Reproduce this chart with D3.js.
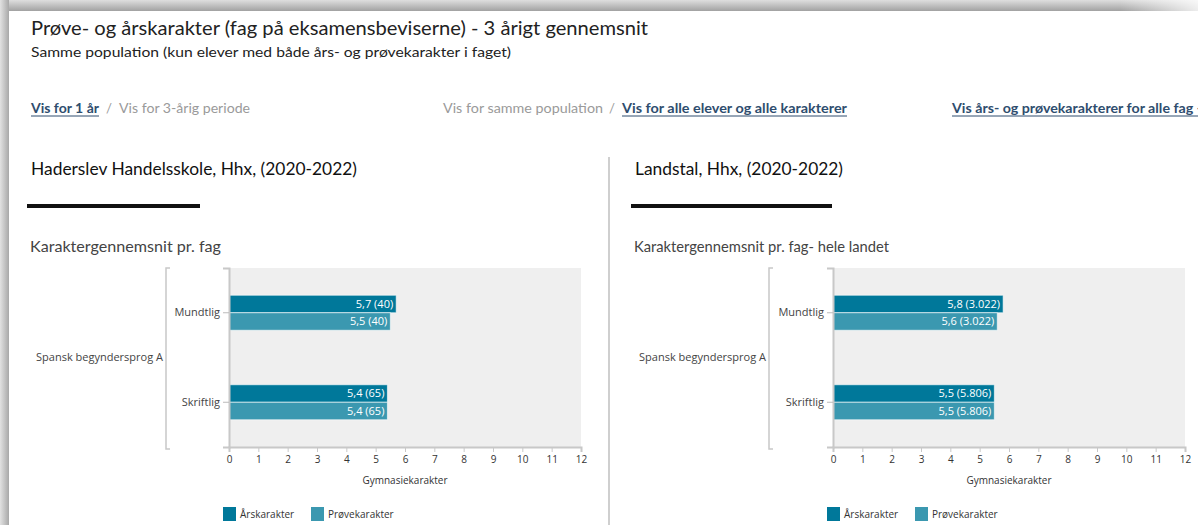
<!DOCTYPE html>
<html>
<head>
<meta charset="utf-8">
<script src="https://cdn.jsdelivr.net/npm/d3@7"></script>
<style>
  body { margin: 0; background: #fff; }
  svg text { font-family: 'Open Sans', 'Noto Sans', sans-serif; }
  .hdr { font-family: Lato, 'Open Sans', sans-serif !important; }
</style>
</head>
<body>
<div id="chartContainer"></div>
<script>
// Data
const categories = ['Mundtlig', 'Skriftlig'];
const groupLabel = 'Spansk begyndersprog A';
const seriesNames = ['Årskarakter', 'Prøvekarakter'];
const seriesColors = ['#00789a', '#3b98b0'];
const xTicks = [0, 1, 2, 3, 4, 5, 6, 7, 8, 9, 10, 11, 12];

const schoolAars = [5.7, 5.4];
const schoolProeve = [5.5, 5.4];
const schoolCount = [40, 65];

const landAars = [5.8, 5.5];
const landProeve = [5.6, 5.5];
const landCount = [3022, 5806];

const width = 1198;
const height = 525;

const locale = d3.formatLocale({ decimal: ',', thousands: '.', grouping: [3], currency: ['', ''] });
const fVal = locale.format('.1f');
const fCount = locale.format(',d');

const svg = d3
  .select('#chartContainer')
  .append('svg')
  .attr('width', width)
  .attr('height', height);

// window shadow around the screenshot
const defs = svg.append('defs');
const gTop = defs.append('linearGradient').attr('id', 'shTop')
  .attr('x1', '0%').attr('y1', '0%').attr('x2', '0%').attr('y2', '100%');
gTop.append('stop').attr('offset', '0%').attr('stop-color', '#dedede');
gTop.append('stop').attr('offset', '100%').attr('stop-color', '#a2a2a2');
const gLeft = defs.append('linearGradient').attr('id', 'shLeft')
  .attr('x1', '0%').attr('y1', '0%').attr('x2', '100%').attr('y2', '0%');
gLeft.append('stop').attr('offset', '0%').attr('stop-color', '#e2e2e2');
gLeft.append('stop').attr('offset', '100%').attr('stop-color', '#a8a8a8');
const gFade = defs.append('linearGradient').attr('id', 'shFade')
  .attr('x1', '0%').attr('y1', '0%').attr('x2', '100%').attr('y2', '0%');
gFade.append('stop').attr('offset', '0%').attr('stop-color', '#fff').attr('stop-opacity', 0);
gFade.append('stop').attr('offset', '100%').attr('stop-color', '#fff').attr('stop-opacity', 0.8);

svg.append('rect').attr('x', 0).attr('y', 0).attr('width', width).attr('height', 11).attr('fill', 'url(#shTop)');
svg.append('rect').attr('x', 1120).attr('y', 0).attr('width', 78).attr('height', 11).attr('fill', 'url(#shFade)');
svg.append('rect').attr('x', 0).attr('y', 0).attr('width', 9).attr('height', height).attr('fill', 'url(#shLeft)');

// Titles
svg.append('text').attr('class', 'hdr')
  .attr('x', 31).attr('y', 35)
  .attr('font-size', 19).attr('fill', '#222')
  .attr('textLength', 617).attr('lengthAdjust', 'spacingAndGlyphs')
  .text('Prøve- og årskarakter (fag på eksamensbeviserne) - 3 årigt gennemsnit');
svg.append('text').attr('class', 'hdr')
  .attr('x', 31).attr('y', 57)
  .attr('font-size', 14).attr('fill', '#222')
  .attr('textLength', 480).attr('lengthAdjust', 'spacingAndGlyphs')
  .text('Samme population (kun elever med både års- og prøvekarakter i faget)');

// Link row
const links = [
  { x: 31, w: 68, t: 'Vis for 1 år', active: true },
  { x: 106, w: 6, t: '/', active: false },
  { x: 119, w: 131, t: 'Vis for 3-årig periode', active: false },
  { x: 443, w: 160, t: 'Vis for samme population', active: false },
  { x: 609, w: 6, t: '/', active: false },
  { x: 622, w: 225, t: 'Vis for alle elever og alle karakterer', active: true },
  { x: 952, w: 250, t: 'Vis års- og prøvekarakterer for alle fag -', active: true }
];
links.forEach(l => {
  svg.append('text').attr('class', 'hdr')
    .attr('x', l.x).attr('y', 113)
    .attr('font-size', 13)
    .attr('font-weight', l.active ? 'bold' : 'normal')
    .attr('fill', l.active ? '#2e4d6e' : '#9a9a9a')
    .attr('textLength', l.w).attr('lengthAdjust', 'spacingAndGlyphs')
    .text(l.t);
  if (l.active) {
    svg.append('line')
      .attr('x1', l.x).attr('x2', l.x + l.w)
      .attr('y1', 116).attr('y2', 116)
      .attr('stroke', '#2e4d6e').attr('stroke-width', 1);
  }
});

// divider between the two panels
svg.append('line')
  .attr('x1', 609).attr('x2', 609).attr('y1', 157).attr('y2', height)
  .attr('stroke', '#cfcfcf').attr('stroke-width', 2);

function drawPanel(opts) {
  const g = svg.append('g');
  const ox = opts.left;

  g.append('text').attr('class', 'hdr')
    .attr('x', ox + 4).attr('y', 175)
    .attr('font-size', 17).attr('fill', '#111')
    .attr('textLength', opts.titleW).attr('lengthAdjust', 'spacingAndGlyphs')
    .text(opts.title);
  g.append('rect')
    .attr('x', ox).attr('y', 204).attr('width', opts.barW).attr('height', 4)
    .attr('fill', '#111');
  g.append('text').attr('class', 'hdr')
    .attr('x', ox + 3).attr('y', 252)
    .attr('font-size', 15).attr('fill', '#444')
    .attr('textLength', opts.subW).attr('lengthAdjust', 'spacingAndGlyphs')
    .text(opts.sub);

  const plotTop = 268;
  const plotBottom = 447;

  const x = d3.scaleLinear().domain([0, 12]).range([opts.x0, opts.x0 + 352]);
  const y = d3.scaleBand().domain(categories).range([plotTop, plotBottom]);
  const bw = y.bandwidth();
  const yInner = d3.scaleBand().domain(seriesNames).range([bw / 2 - 17.5, bw / 2 + 17.5]);

  // plot background
  g.append('rect')
    .attr('x', x(0)).attr('y', plotTop)
    .attr('width', x(12) - x(0)).attr('height', plotBottom - plotTop)
    .attr('fill', '#efefef');

  const rows = [];
  categories.forEach((c, i) => {
    rows.push({ cat: c, s: seriesNames[0], v: opts.aars[i], n: opts.count[i], col: seriesColors[0] });
    rows.push({ cat: c, s: seriesNames[1], v: opts.proeve[i], n: opts.count[i], col: seriesColors[1] });
  });

  g.selectAll('.bar')
    .data(rows)
    .enter()
    .append('rect')
    .attr('class', 'bar')
    .attr('x', x(0))
    .attr('y', d => y(d.cat) + yInner(d.s))
    .attr('width', d => x(d.v) - x(0))
    .attr('height', yInner.bandwidth())
    .attr('fill', d => d.col)
    .attr('stroke', '#fff')
    .attr('stroke-opacity', 0.6)
    .attr('stroke-width', 1);

  g.selectAll('.barlabel')
    .data(rows)
    .enter()
    .append('text')
    .attr('class', 'barlabel')
    .attr('x', d => x(d.v) - 3)
    .attr('y', d => y(d.cat) + yInner(d.s) + yInner.bandwidth() / 2)
    .attr('dy', '0.35em')
    .attr('text-anchor', 'end')
    .attr('font-size', 11)
    .attr('fill', '#fff')
    .text(d => `${fVal(d.v)} (${fCount(d.n)})`);

  // x axis
  const xAxis = d3.axisBottom(x).tickValues(xTicks).tickSize(5).tickPadding(4);
  const gx = g.append('g')
    .attr('transform', `translate(0,${plotBottom})`)
    .call(xAxis);
  gx.select('.domain').attr('stroke', '#c8c8c8').attr('stroke-width', 2);
  gx.selectAll('.tick line').attr('stroke', '#c8c8c8');
  gx.selectAll('.tick text').attr('fill', '#333').attr('font-size', 10)
    .style('font-family', "'Open Sans', sans-serif");
  g.append('text')
    .attr('x', (x(0) + x(12)) / 2).attr('y', 484)
    .attr('text-anchor', 'middle')
    .attr('font-size', 10).attr('fill', '#333')
    .text('Gymnasiekarakter');

  // y axis
  const yAxis = d3.axisLeft(y).tickSize(6).tickPadding(3);
  const gy = g.append('g')
    .attr('transform', `translate(${x(0)},0)`)
    .call(yAxis);
  gy.select('.domain').attr('stroke', '#c8c8c8').attr('stroke-width', 2);
  gy.selectAll('.tick line').attr('stroke', '#bbb');
  gy.selectAll('.tick text').attr('fill', '#444').attr('font-size', 11)
    .style('font-family', "'Open Sans', sans-serif");

  // outer group bracket
  const bx = opts.bracketX;
  g.append('path')
    .attr('d', `M${bx + 4},${plotTop}H${bx}V${plotBottom + 2}H${bx + 4}`)
    .attr('fill', 'none').attr('stroke', '#c8c8c8').attr('stroke-width', 1.5);
  g.append('text')
    .attr('x', bx - 3).attr('y', (plotTop + plotBottom) / 2)
    .attr('dy', '0.35em')
    .attr('text-anchor', 'end')
    .attr('font-size', 11).attr('fill', '#444')
    .text(groupLabel);

  // legend
  const lg = g.append('g').attr('transform', `translate(${opts.legendX},507)`);
  const items = lg.selectAll('.leg')
    .data(seriesNames)
    .enter()
    .append('g')
    .attr('transform', (d, i) => `translate(${i * 88},0)`);
  items.append('rect')
    .attr('width', 13).attr('height', 14)
    .attr('fill', (d, i) => seriesColors[i]);
  items.append('text')
    .attr('x', 17).attr('y', 11)
    .attr('font-size', 10).attr('fill', '#333')
    .text(d => d);
}

drawPanel({
  left: 27, barW: 173, x0: 229, bracketX: 166, legendX: 223,
  title: 'Haderslev Handelsskole, Hhx, (2020-2022)', titleW: 326,
  sub: 'Karaktergennemsnit pr. fag', subW: 191,
  aars: schoolAars, proeve: schoolProeve, count: schoolCount
});
drawPanel({
  left: 631, barW: 201, x0: 833, bracketX: 769, legendX: 827,
  title: 'Landstal, Hhx, (2020-2022)', titleW: 208,
  sub: 'Karaktergennemsnit pr. fag- hele landet', subW: 255,
  aars: landAars, proeve: landProeve, count: landCount
});
</script>
</body>
</html>
